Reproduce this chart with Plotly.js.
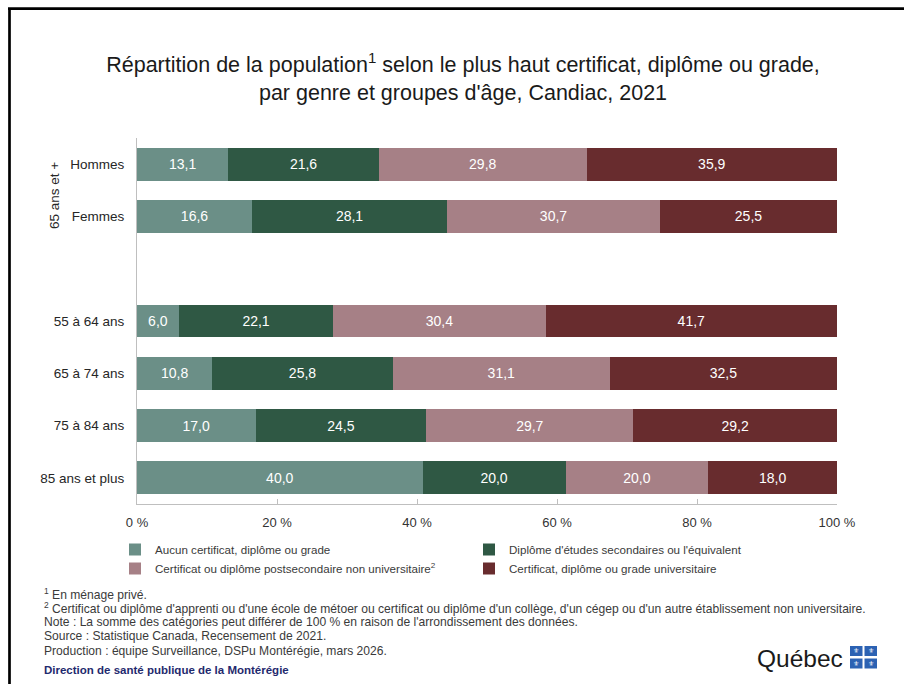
<!DOCTYPE html>
<html>
<head>
<meta charset="utf-8">
<script src="https://cdn.plot.ly/plotly-3.0.1.min.js"></script>
<style>
html,body{margin:0;padding:0;background:#fff;}
#chart{width:904px;height:684px;}
</style>
</head>
<body>
<div id="chart"></div>
<script>
// ---- Data ----
const categories = ['Hommes', 'Femmes', ' ', '55 à 64 ans', '65 à 74 ans', '75 à 84 ans', '85 ans et plus'];
const seriesNames = [
  'Aucun certificat, diplôme ou grade',
  "Diplôme d'études secondaires ou l'équivalent",
  'Certificat ou diplôme postsecondaire non universitaire<sup>2</sup>',
  'Certificat, diplôme ou grade universitaire'
];
const aucun      = [13.1, 16.6, null,  6.0, 10.8, 17.0, 40.0];
const secondaire = [21.6, 28.1, null, 22.1, 25.8, 24.5, 20.0];
const postsec    = [29.8, 30.7, null, 30.4, 31.1, 29.7, 20.0];
const univ       = [35.9, 25.5, null, 41.7, 32.5, 29.2, 18.0];
const xTickVals  = [0, 20, 40, 60, 80, 100];
const xTickText  = ['0 %', '20 %', '40 %', '60 %', '80 %', '100 %'];

const colors = ['#6b8f87', '#2f5844', '#a68086', '#682c2e'];

// ---- Geometry helpers (pixel -> paper) ----
const W = 904, H = 684;
const M = {l: 137, r: 67, t: 138, b: 180};
const PW = W - M.l - M.r, PH = H - M.t - M.b;
const px = v => (v - M.l) / PW;
const py = v => (H - M.b - v) / PH;

const fmt = v => (v === null ? '' : v.toFixed(1).replace('.', ','));

const allSeries = [aucun, secondaire, postsec, univ];
const legendIds = ['legend', 'legend2', 'legend', 'legend2'];
const traces = allSeries.map((vals, i) => ({
  type: 'bar',
  orientation: 'h',
  name: seriesNames[i],
  x: vals,
  y: categories,
  text: vals.map(fmt),
  texttemplate: '%{text}',
  textposition: 'inside',
  insidetextanchor: 'middle',
  constraintext: 'none',
  textfont: {family: 'Liberation Sans, Arial, sans-serif', size: 14, color: '#ffffff'},
  marker: {color: colors[i], line: {width: 0}},
  legend: legendIds[i],
  hoverinfo: 'skip'
}));

const footFont = {family: 'Liberation Sans, Arial, sans-serif', size: 12.1, color: '#3a3a3a'};
const footLines = [
  ['<sup>1</sup> En ménage privé.', 594],
  ["<sup>2</sup> Certificat ou diplôme d'apprenti ou d'une école de métoer ou certificat ou diplôme d'un collège, d'un cégep ou d'un autre établissement non universitaire.", 608],
  ["Note : La somme des catégories peut différer de 100 % en raison de l'arrondissement des données.", 622],
  ['Source : Statistique Canada, Recensement de 2021.', 636],
  ['Production : équipe Surveillance, DSPu Montérégie, mars 2026.', 651]
];

const annotations = footLines.map(([t, y]) => ({
  xref: 'paper', yref: 'paper', x: px(42), y: py(y),
  xanchor: 'left', yanchor: 'middle', showarrow: false,
  text: t, font: footFont, align: 'left'
}));
annotations.push({
  xref: 'paper', yref: 'paper', x: px(42), y: py(670),
  xanchor: 'left', yanchor: 'middle', showarrow: false,
  text: '<b>Direction de santé publique de la Montérégie</b>',
  font: {family: 'Liberation Sans, Arial, sans-serif', size: 11.5, color: '#1f2a6e'}
});
annotations.push({
  xref: 'paper', yref: 'paper', x: px(54), y: py(196),
  xanchor: 'center', yanchor: 'middle', showarrow: false, textangle: -90,
  text: '65 ans et +',
  font: {family: 'Liberation Sans, Arial, sans-serif', size: 13.5, color: '#262626'}
});
annotations.push({
  xref: 'paper', yref: 'paper', x: px(845), y: py(658),
  xanchor: 'right', yanchor: 'middle', showarrow: false,
  text: 'Québec',
  font: {family: 'Liberation Sans, Arial, sans-serif', size: 24.5, color: '#1a1a1a'}
});

const shapes = [
  {type: 'line', xref: 'paper', yref: 'paper', x0: px(9.5), x1: px(9.5), y0: py(8.7), y1: py(H + 2), line: {color: '#000', width: 2.7}},
  {type: 'line', xref: 'paper', yref: 'paper', x0: px(8), x1: px(W + 2), y0: py(8.7), y1: py(8.7), line: {color: '#000', width: 2.7}}
];
// Québec flag squares
const sq = [[850, 646], [864.5, 646], [850, 658.5], [864.5, 658.5]];
sq.forEach(([x, y]) => {
  shapes.push({type: 'rect', xref: 'paper', yref: 'paper', x0: px(x), x1: px(x + 12.5), y0: py(y), y1: py(y + 10),
    fillcolor: '#2c62b3', line: {width: 0}});
  annotations.push({xref: 'paper', yref: 'paper', x: px(x + 6.25), y: py(y + 5), xanchor: 'center', yanchor: 'middle',
    showarrow: false, text: '⚜', font: {family: 'DejaVu Sans', size: 7, color: '#ffffff'}});
});

const legendFont = {family: 'Liberation Sans, Arial, sans-serif', size: 11.6, color: '#3a3a3a'};

const layout = {
  width: W, height: H,
  margin: M,
  paper_bgcolor: '#ffffff', plot_bgcolor: '#ffffff',
  barmode: 'stack',
  barnorm: 'percent',
  bargap: 0.37,
  separators: ', ',
  title: {
    text: 'Répartition de la population<sup>1</sup> selon le plus haut certificat, diplôme ou grade,<br>par genre et groupes d\'âge, Candiac, 2021',
    font: {family: 'Liberation Sans, Arial, sans-serif', size: 21.5, color: '#1a1a1a'},
    xref: 'paper', x: px(463), xanchor: 'center',
    yref: 'container', y: 1 - 72 / H, yanchor: 'middle'
  },
  xaxis: {
    range: [0, 100],
    tickvals: xTickVals, ticktext: xTickText,
    ticks: 'inside', ticklen: 5, tickcolor: '#bfbfbf', tickwidth: 1,
    showline: true, linecolor: '#bfbfbf', linewidth: 1,
    showgrid: false, zeroline: false,
    ticklabelstandoff: 6,
    tickfont: {family: 'Liberation Sans, Arial, sans-serif', size: 13, color: '#333333'},
    fixedrange: true
  },
  yaxis: {
    type: 'category',
    categoryorder: 'array', categoryarray: categories,
    range: [categories.length - 0.5, -0.5],
    showline: true, linecolor: '#bfbfbf', linewidth: 1,
    ticks: '', showgrid: false, zeroline: false,
    ticklabelstandoff: 9,
    tickfont: {family: 'Liberation Sans, Arial, sans-serif', size: 13.5, color: '#262626'},
    fixedrange: true
  },
  showlegend: true,
  legend: {
    x: px(115), xanchor: 'left', y: py(535), yanchor: 'top', traceorder: 'normal',
    orientation: 'v', font: legendFont, bgcolor: 'rgba(0,0,0,0)', tracegroupgap: 0,
    itemclick: false, itemdoubleclick: false
  },
  legend2: {
    x: px(469), xanchor: 'left', y: py(535), yanchor: 'top', traceorder: 'normal',
    orientation: 'v', font: legendFont, bgcolor: 'rgba(0,0,0,0)', tracegroupgap: 0,
    itemclick: false, itemdoubleclick: false
  },
  annotations: annotations,
  shapes: shapes
};

Plotly.newPlot('chart', traces, layout, {displayModeBar: false, staticPlot: true});
</script>
</body>
</html>
